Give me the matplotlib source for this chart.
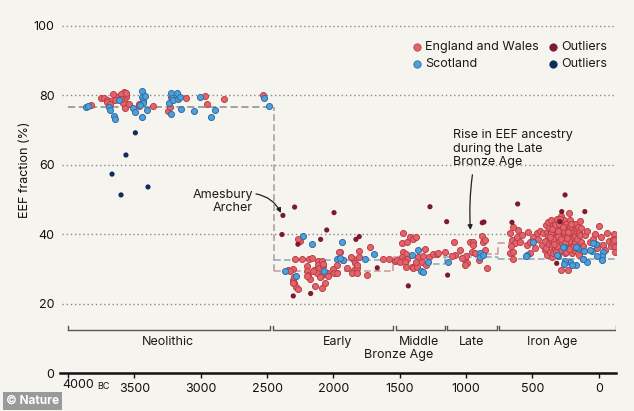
import matplotlib
matplotlib.use("Agg")
import matplotlib.pyplot as plt

plt.rcParams['font.family'] = ['Inter', 'DejaVu Sans']

# ---------------- data ----------------
eng_year = [3829, 3751, 3729, 3708, 3699, 3684, 3646, 3646, 3578, 3570, 3563, 3578, 3583, 3573, 3540,
            3463, 3463, 3359, 3249, 3231, 3226, 3113, 2968, 2955, 2827, 2530, 3659, 3708, 3683, 3598,
            3560, 3600,
            # Early Bronze Age
            2252, 2289, 2302, 2342, 2302, 2294, 2282, 2264, 2306, 2294, 2184, 2201, 2201, 2189, 2144,
            2118, 2114, 2106, 2088, 2076, 2126, 2156, 2093, 2101, 2176, 2139, 2088, 2050, 2038, 2005,
            1995, 1975, 1950, 1930, 1900, 1855, 1837, 1843, 1825, 1857, 1825, 1809, 1805, 1724, 1749,
            1820, 1624, 1579, 1536, 1975, 2240, 2200, 2060, 2080, 1870, 1955, 2158, 2330, 2270,
            # Middle Bronze Age
            1478, 1485, 1448, 1423, 1398, 1380, 1473, 1453, 1485, 1468, 1443, 1523, 1498, 1460, 1410,
            1398, 1368, 1360, 1310, 1322, 1277, 1252, 1222, 1209, 1335, 1380, 1300, 1455,
            # Late Bronze Age
            1159, 1088, 1083, 1108, 1008, 995, 1000, 970, 950, 945, 957, 932, 883, 875, 858, 845, 858,
            900, 1045, 1033, 1010,
            # Iron Age
            669, 644, 656, 632, 619, 581, 594, 606, 644, 669, 644, 544, 519, 494, 464, 443, 418, 430,
            405, 518, 481, 456, 530, 660,
            402, 398, 395, 391, 388, 383, 379, 376, 372, 369, 364, 361, 357, 354, 351, 347, 344,
            341, 338, 335, 331, 327, 324, 321, 318, 315, 312, 309, 305, 302, 299, 296, 293, 290,
            287, 284, 281, 278, 275, 272, 269, 266, 263, 260, 257, 254, 251, 248, 245, 242, 239,
            236, 233, 230, 227, 224, 221, 218, 215, 212, 209, 206, 203, 200, 197, 194, 191, 188,
            185, 182, 179, 176, 172, 168, 165, 161, 158, 154, 150, 146, 142, 139, 135, 131, 127,
            362, 348, 333, 318, 306, 292, 277, 262, 248, 234, 221, 206, 193, 370, 355, 340, 325,
            310, 296, 282,
            120, 100, 85, 65, 45, 25, 10, -5, -20, -35, -50, -65, -80, -95, 268, 252, 238, 225,
            -108, -116, -122, -104, -112, -119, 285, 230]
eng_val = [77.3, 79.1, 79.3, 78.6, 77.8, 78.3, 79.7, 78.7, 81.0, 79.7, 79.6, 78.7, 77.9, 76.3, 77.6,
           76.8, 77.4, 76.9, 75.5, 76.7, 79.5, 79.2, 79.9, 77.4, 79.0, 80.0, 80.5, 78.2, 77.5, 80.3,
           80.6, 79.0,
           38.0, 32.8, 30.0, 29.7, 26.8, 26.0, 24.9, 24.1, 25.8, 27.8, 32.8, 30.8, 29.5, 28.2, 29.7,
           32.4, 31.1, 30.2, 32.3, 30.8, 28.9, 29.4, 28.0, 27.6, 27.2, 25.2, 24.4, 28.9, 28.0, 29.9,
           28.7, 31.1, 34.9, 32.6, 30.2, 32.9, 31.6, 29.7, 30.3, 28.7, 28.7, 33.4, 35.2, 36.2, 28.2,
           31.1, 32.8, 32.8, 32.3, 28.9, 32.8, 28.0, 26.0, 31.5, 33.5, 34.9, 33.0, 29.5, 38.6,
           40.3, 37.4, 37.6, 39.3, 38.5, 39.3, 35.0, 34.3, 33.5, 32.6, 32.8, 32.6, 32.1, 32.1, 30.6,
           30.3, 30.6, 33.5, 35.7, 33.7, 33.5, 34.3, 34.3, 34.7, 32.1, 32.1, 31.0, 30.5,
           35.0, 37.6, 34.0, 33.7, 32.6, 31.8, 33.7, 37.6, 37.6, 36.9, 35.0, 34.5, 39.5, 37.8, 38.3,
           30.3, 35.4, 32.6, 35.4, 33.0, 31.0,
           34.5, 35.0, 38.3, 37.4, 39.1, 39.8, 37.8, 41.2, 42.2, 40.3, 32.8, 36.9, 37.8, 39.3, 40.3,
           41.0, 40.3, 36.9, 35.4, 34.5, 36.0, 38.5, 40.5, 36.5,
           38.0, 42.5, 36.0, 40.5, 34.0, 39.5, 43.5, 37.2, 41.8, 35.0, 38.5, 44.0, 40.8, 33.5, 36.8,
           42.5, 39.2, 34.5, 41.5, 37.5, 43.2, 35.8, 40.2, 38.2, 44.5, 42.0, 36.2, 40.0, 39.0, 34.8,
           41.0, 37.8, 43.5, 39.8, 45.2, 35.5, 41.8, 38.8, 36.8, 42.5, 40.5, 38.5, 44.2, 36.5, 41.5,
           34.5, 39.5, 37.5, 43.0, 41.2, 39.5, 35.8, 42.2, 38.5, 40.5, 46.0, 38.0, 44.0, 42.0, 36.5,
           40.0, 39.0, 34.5, 41.8, 38.8, 42.8, 37.2, 40.8, 35.5, 39.5, 43.0, 37.5, 41.5, 36.0, 40.5,
           38.5, 42.0, 36.8, 40.5, 34.0, 39.8, 43.8, 37.8, 41.8, 35.5, 40.2, 38.5, 42.5, 36.5, 39.5,
           44.5, 37.5, 41.0, 34.8, 40.5, 38.0, 42.8, 36.2, 39.2, 41.5, 37.2, 35.0, 40.8, 43.0, 38.5,
           36.5, 39.8, 41.0, 37.8, 38.5, 40.0, 36.0, 42.4, 39.2, 37.0, 35.4, 40.3, 38.0, 36.5, 42.0,
           37.4, 39.0, 35.8, 37.5, 40.0, 36.4, 38.5, 38.3, 35.0, 29.7, 29.7]
sco_year = [3864, 3847, 3689, 3683, 3651, 3646, 3616, 3512, 3495, 3445, 3440, 3437, 3422, 3433, 3457,
            3445, 3402, 3239, 3226, 3218, 3206, 3181, 3171, 3156, 3148, 3224, 3048, 3005, 2925, 2892,
            2523, 2483,
            2227, 2164, 1933, 1692, 1762, 1975, 1925, 1950, 2068, 2362, 2282,
            1342, 1327, 1360, 1410, 1285,
            1134, 895, 895, 875,
            544, 494, 549, 259, 159, 108, 50, 20, -33, -28, -21, 10, 116, 86, 174, 217, 254, 259,
            305, 312, 267, 171, 122, 40, 66, 200]
sco_val = [76.5, 76.9, 76.5, 75.8, 73.9, 73.2, 78.7, 76.3, 75.2, 81.3, 79.6, 78.5, 79.9, 77.7, 77.2,
           73.7, 75.8, 77.7, 80.6, 79.2, 78.7, 80.6, 78.9, 79.5, 76.0, 74.6, 75.5, 79.5, 73.7, 75.8,
           79.2, 77.0,
           39.5, 37.3, 37.7, 34.3, 32.7, 32.9, 32.6, 33.1, 29.3, 29.3, 28.0,
           29.4, 29.2, 35.4, 34.0, 32.1,
           32.1, 34.5, 33.3, 34.0,
           34.0, 37.6, 33.7, 36.4, 35.9, 35.2, 35.2, 37.2, 35.0, 33.6, 32.6, 33.8, 32.9, 31.9, 31.1,
           32.1, 32.4, 31.4, 33.7, 34.0, 36.4, 36.2, 32.8, 37.4, 35.4, 31.0]
eng_out_year = [2380, 2292, 2387, 1995, 2050, 2096, 2267, 1830, 1805, 2302, 2171, 1669,
                1435, 1272, 1146, 1139, 878, 865, 654, 611, 317, 292, 279, 254, 105]
eng_out_val = [45.4, 47.8, 39.9, 46.2, 41.2, 38.5, 37.1, 38.5, 39.3, 22.2, 22.9, 30.3,
               25.1, 47.9, 43.6, 28.2, 43.3, 43.5, 43.4, 48.7, 31.6, 43.6, 46.5, 51.3, 46.5]
sco_out_year = [3492, 3563, 3668, 3600, 3397]
sco_out_val = [69.2, 62.8, 57.3, 51.3, 53.6]

# period boundaries (years BC) and mean step levels
step_edges = [4000, 2450, 1550, 1155, 760, -122]
eng_steps = [76.5, 29.5, 33.3, 34.3, 37.5]
sco_steps = [76.5, 32.6, 31.5, 33.3, 32.8]

periods = ["Neolithic", "Early", "Middle", "Late", "Iron Age"]
period_edges = [(4002, 2474), (2453, 1551), (1528, 1161), (1142, 770), (752, -127)]
period_label_x = [3244, 1971, 1353, 958, 348]

xticks = [4000, 3500, 3000, 2500, 2000, 1500, 1000, 500, 0]
yticks = [0, 20, 40, 60, 80, 100]

# ---------------- style ----------------
BG = '#f6f4ee'
RED, RED_E = '#e2646b', '#bf3e48'
BLUE, BLUE_E = '#519fd6', '#2b6ea8'
DRED, NAVY = '#7d1a2e', '#0f2d5c'

fig = plt.figure(figsize=(6.34, 4.11), dpi=100, facecolor=BG)
ax = fig.add_axes([60 / 634, 38 / 411, 556 / 634, 353 / 411])
ax.set_facecolor(BG)
ax.set_xlim(4060, -130)
ax.set_ylim(0, 101.7)

# gridlines
for v in [20, 40, 60, 80, 100]:
    ax.axhline(v, xmin=2 / 556, xmax=1, color='#8a8a8a', lw=1.0, ls=(0, (1, 2)), zorder=1)

# step lines
for i in range(len(eng_steps)):
    x0, x1 = step_edges[i], step_edges[i + 1]
    if i == 0:
        ax.plot([x0, x1], [eng_steps[i], eng_steps[i]], color='#9a9a9a', lw=1.3, ls=(0, (4, 2)), zorder=2)
    else:
        ax.plot([x0, x1], [eng_steps[i], eng_steps[i]], color='#cc9ca4', lw=1.2, ls=(0, (4, 2)), zorder=2)
        ax.plot([x0, x1], [sco_steps[i], sco_steps[i]], color='#98abbf', lw=1.2, ls=(0, (4, 2)), zorder=2)
    if i < len(eng_steps) - 1:
        lo_e = min(eng_steps[i], eng_steps[i + 1])
        hi_e = max(eng_steps[i], eng_steps[i + 1])
        ax.plot([x1, x1], [lo_e, hi_e], color='#b0a0a8' if i == 0 else '#cc9ca4', lw=1.2,
                ls=(0, (4, 2)), zorder=2)
        if i > 0:
            ax.plot([x1, x1], sorted([sco_steps[i], sco_steps[i + 1]]), color='#98abbf', lw=1.2,
                    ls=(0, (4, 2)), zorder=2)

# points
ax.scatter(eng_year, eng_val, s=19, c=RED, edgecolors=RED_E, linewidths=0.7, zorder=3)
ax.scatter(sco_year, sco_val, s=19, c=BLUE, edgecolors=BLUE_E, linewidths=0.7, zorder=4)
ax.scatter(eng_out_year, eng_out_val, s=14, c=DRED, edgecolors='none', zorder=5)
ax.scatter(sco_out_year, sco_out_val, s=14, c=NAVY, edgecolors='none', zorder=5)

# period brackets
for (a, b), name, lx in zip(period_edges, periods, period_label_x):
    ax.plot([a, b], [12.4, 12.4], color='#555555', lw=1.0, zorder=2, solid_capstyle='butt')
    ax.plot([a, a], [12.4, 13.6], color='#555555', lw=1.0, zorder=2)
    ax.plot([b, b], [12.4, 13.6], color='#555555', lw=1.0, zorder=2)
    ax.text(lx, 8.9, name, ha='center', va='center', fontsize=9, color='#1a1a1a')
ax.text(1511, 5.2, "Bronze Age", ha='center', va='center', fontsize=9, color='#1a1a1a')

# axes styling
for sp in ['left', 'right', 'top']:
    ax.spines[sp].set_visible(False)
ax.spines['bottom'].set_linewidth(1.8)
ax.spines['bottom'].set_color('#111111')
ax.set_xticks(xticks)
ax.set_xticklabels(['' if t == 4000 else str(t) for t in xticks], fontsize=9)
ax.tick_params(axis='x', length=3.5, width=1.0, pad=4, colors='#111111')
ax.set_yticks(yticks)
ax.set_yticklabels([str(t) for t in yticks], fontsize=9)
ax.tick_params(axis='y', length=0, pad=4, colors='#111111')
ax.text(4040, -1.8, "4000", ha='left', va='top', fontsize=9, color='#111111', clip_on=False)
ax.text(3776, -2.6, "BC", ha='left', va='top', fontsize=6.5, color='#111111', clip_on=False)
fig.text(25 / 634, 1 - 170 / 411, "EEF fraction (%)", rotation=90, ha='center', va='center',
         fontsize=9, color='#111111')

# legend (manual)
legend_items = [(0.642, 0.9235, RED, RED_E, "England and Wales"),
                (0.642, 0.875, BLUE, BLUE_E, "Scotland"),
                (0.8867, 0.9235, DRED, DRED, "Outliers"),
                (0.8867, 0.875, NAVY, NAVY, "Outliers")]
for lx, ly, fc, ec, lab in legend_items:
    ax.scatter([lx], [ly], s=28, c=fc, edgecolors=ec, linewidths=0.6, transform=ax.transAxes,
               zorder=6, clip_on=False)
    ax.text(lx + 0.0145, ly, lab, transform=ax.transAxes, ha='left', va='center', fontsize=9,
            color='#1a1a1a')

# annotations
ax.text(2606, 49.4, "Amesbury\nArcher", ha='right', va='center', fontsize=9, color='#1a1a1a',
        multialignment='right', linespacing=1.15)
ax.annotate("", xy=(2395, 46.1), xytext=(2583, 51.6),
            arrowprops=dict(arrowstyle='-|>', color='#222222', lw=0.9, mutation_scale=7,
                            connectionstyle='arc3,rad=-0.25', shrinkA=0, shrinkB=0))
ax.text(1099, 64.6, "Rise in EEF ancestry\nduring the Late\nBronze Age", ha='left', va='center',
        fontsize=9, color='#1a1a1a', linespacing=1.15)
ax.annotate("", xy=(967, 41.2), xytext=(952, 57.1),
            arrowprops=dict(arrowstyle='-|>', color='#222222', lw=0.9, mutation_scale=7,
                            connectionstyle='arc3,rad=0.05', shrinkA=0, shrinkB=0))

# watermark
fig.text(6 / 634, 4 / 411, "© Nature", ha='left', va='bottom', fontsize=8.5, color='white',
         fontweight='bold',
         bbox=dict(boxstyle='square,pad=0.25', fc='#9a9a9a', ec='none'))

fig.savefig("out.png", dpi=100, facecolor=BG)
